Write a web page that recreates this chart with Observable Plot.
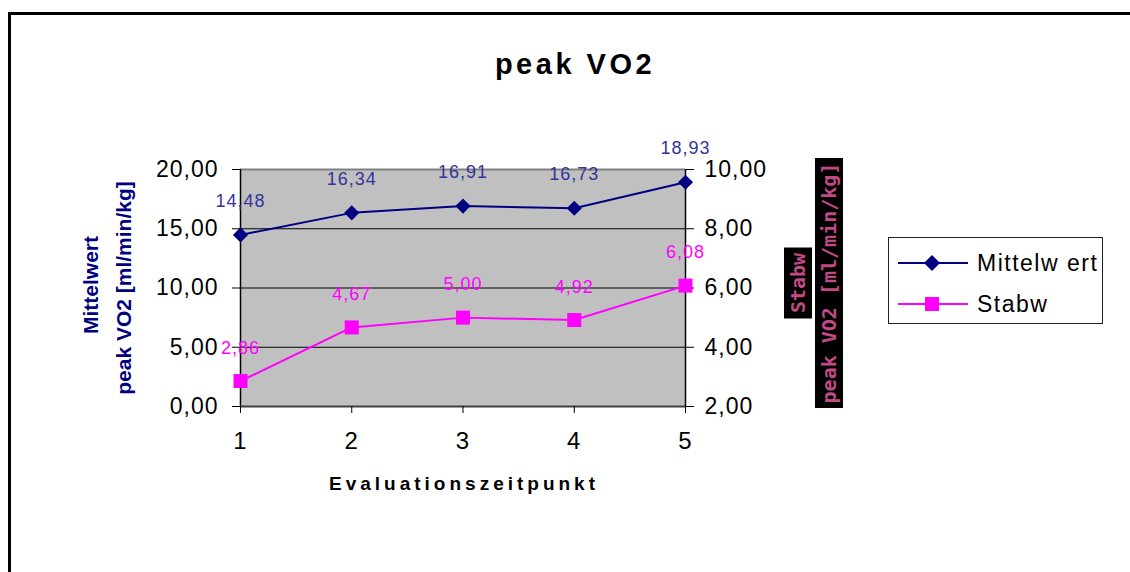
<!DOCTYPE html>
<html>
<head>
<meta charset="utf-8">
<script src="https://cdn.jsdelivr.net/npm/d3@7"></script>
<script src="https://cdn.jsdelivr.net/npm/@observablehq/plot@0.6"></script>
<style>
  html, body { margin: 0; padding: 0; background: #fff; }
  #wrap { position: relative; width: 1130px; height: 572px; overflow: hidden; background: #fff;
          font-family: "Liberation Sans", Arial, sans-serif; }
  #chart { position: absolute; left: 0; top: 0; }
  .border { position: absolute; left: 8px; top: 12px; width: 1200px; height: 700px;
            border-left: 3px solid #000; border-top: 3px solid #000; }
  .title { position: absolute; left: 0; width: 1150px; top: 48px; text-align: center;
           font-weight: bold; font-size: 29px; line-height: 32px; letter-spacing: 3.5px; color: #000; }
  .xtitle { position: absolute; left: 0; width: 920px; top: 473px; text-align: center;
            font-weight: bold; font-size: 19px; line-height: 22px; letter-spacing: 4px; color: #000; padding-left: 4px; }
  .rot { position: absolute; white-space: nowrap; transform: translate(-50%, -50%) rotate(-90deg); }
  .ylab { font-weight: bold; font-size: 21px; line-height: 24px; color: #000080; }
  .rbox { background: #000; color: #c04a85; font-family: "DejaVu Sans Mono", monospace; font-weight: bold;
          font-size: 20px; height: 28px; line-height: 28px; text-align: center; }
  .legend { position: absolute; left: 888px; top: 237px; width: 213px; height: 85px; border: 1px solid #222; background: #fff; }
  .legend svg { position: absolute; left: 0; top: 0; }
  .ltext { position: absolute; left: 88px; font-size: 23px; line-height: 26px; letter-spacing: 1.5px; color: #000; }
  svg text { letter-spacing: 1px; }
</style>
</head>
<body>
<div id="wrap">
  <div id="chart"></div>
  <div class="border"></div>
  <div class="title">peak VO2</div>
  <div class="xtitle">Evaluationszeitpunkt</div>
  <div class="rot ylab" style="left:91px; top:285px;">Mittelwert</div>
  <div class="rot ylab" style="left:124px; top:288px;">peak VO2 [ml/min/kg]</div>
  <div class="rot rbox" style="left:798px; top:283px; width:71px;">Stabw</div>
  <div class="rot rbox" style="left:829px; top:283px; width:250px;">peak VO2 [ml/min/kg]</div>
  <div class="legend">
    <svg width="213" height="85">
      <line x1="9" x2="79" y1="25" y2="25" stroke="#000080" stroke-width="2"/>
      <path d="M43,17 L51,25 L43,33 L35,25 Z" fill="#000080"/>
      <line x1="9" x2="79" y1="66" y2="66" stroke="#ff00ff" stroke-width="2"/>
      <rect x="36" y="59" width="14" height="14" fill="#ff00ff"/>
    </svg>
    <div class="ltext" style="top:12px;">Mittelw ert</div>
    <div class="ltext" style="top:53px;">Stabw</div>
  </div>
</div>
<script>
// ---- data ----
const points = [1, 2, 3, 4, 5];
const mittelwert = [14.48, 16.34, 16.91, 16.73, 18.93];
const stabw = [2.86, 4.67, 5.00, 4.92, 6.08];
const leftTicks = [0, 5, 10, 15, 20];
const rightTicks = [2, 4, 6, 8, 10];
const gridLines = [5, 10, 15];

// right axis (2..10) mapped onto the left scale (0..20)
const rightMin = 2, rightMax = 10, leftMax = 20;
const toLeft = v => (v - rightMin) * leftMax / (rightMax - rightMin);
const fromLeft = v => v * (rightMax - rightMin) / leftMax + rightMin;
const fmt = d => d.toFixed(2).replace(".", ",");

const mw = points.map((p, i) => ({x: p, y: mittelwert[i], v: mittelwert[i]}));
const sd = points.map((p, i) => ({x: p, y: toLeft(stabw[i]), v: stabw[i]}));

const chart = Plot.plot({
  width: 1130,
  height: 572,
  marginLeft: 240,
  marginRight: 445,
  marginTop: 169,
  marginBottom: 166,
  style: {fontFamily: "Liberation Sans, Arial, sans-serif", background: "transparent"},
  x: {domain: [1, 5], type: "linear"},
  y: {domain: [0, 20]},
  marks: [
    Plot.frame({fill: "#c0c0c0", stroke: null}),
    Plot.ruleY(gridLines, {stroke: "#000", strokeWidth: 1}),
    Plot.ruleY([20], {stroke: "#808080", strokeWidth: 2}),
    Plot.ruleX([5], {stroke: "#000", strokeWidth: 1.5}),
    Plot.ruleX([1], {stroke: "#000", strokeWidth: 1.5}),
    Plot.ruleY([0], {stroke: "#404040", strokeWidth: 2}),
    Plot.axisY({ticks: leftTicks, tickFormat: fmt, tickSize: 8, tickPadding: 14, fontSize: 23, label: null, anchor: "left", color: "#000"}),
    Plot.axisY(rightTicks.map(toLeft), {anchor: "right", tickFormat: d => fmt(fromLeft(d)), tickSize: 8, tickPadding: 11, fontSize: 23, label: null, color: "#000"}),
    Plot.axisX({ticks: points, tickFormat: d => String(d), tickSize: 7, tickPadding: 18, fontSize: 24, label: null, color: "#000"}),
    Plot.line(mw, {x: "x", y: "y", stroke: "#000080", strokeWidth: 2}),
    Plot.line(sd, {x: "x", y: "y", stroke: "#ff00ff", strokeWidth: 2}),
    Plot.dot(mw, {x: "x", y: "y", symbol: "diamond2", r: 6.8, fill: "#000080", stroke: null}),
    Plot.dot(sd, {x: "x", y: "y", symbol: "square", r: 7.9, fill: "#ff00ff", stroke: null}),
    Plot.text(mw, {x: "x", y: "y", text: d => fmt(d.v), dy: -34, fill: "#333399", fontSize: 18}),
    Plot.text(sd, {x: "x", y: "y", text: d => fmt(d.v), dy: -33, fill: "#ff00ff", fontSize: 18})
  ]
});
document.getElementById("chart").appendChild(chart);
</script>
</body>
</html>
